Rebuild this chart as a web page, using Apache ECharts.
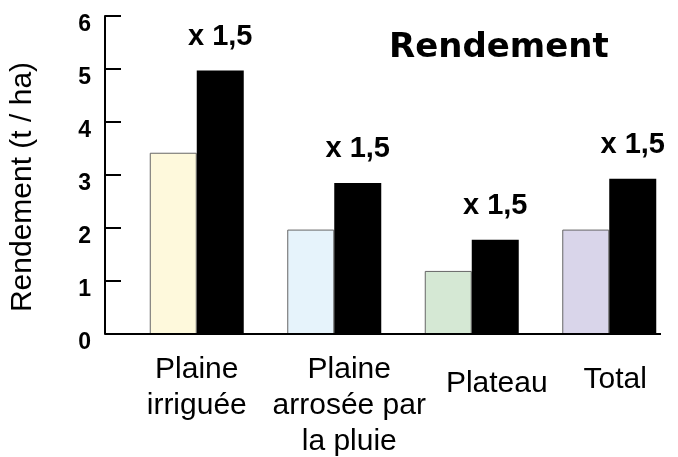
<!DOCTYPE html>
<html>
<head>
<meta charset="utf-8">
<script src="https://cdn.jsdelivr.net/npm/echarts@6/dist/echarts.min.js"></script>
<style>
  html, body { margin: 0; padding: 0; background: #fff; }
  #chart { width: 678px; height: 457px; }
</style>
</head>
<body>
<div id="chart"></div>
<script>
// zones et rendements (t / ha)
var categories = ['Plaine\nirriguée', 'Plaine\narrosée par\nla pluie', 'Plateau', 'Total'];
var avant = [3.42, 1.97, 1.19, 1.97];
var apres = [4.97, 2.85, 1.78, 2.93];
var ratioLabels = ['x 1,5', 'x 1,5', 'x 1,5', 'x 1,5'];
var yTicks = [0, 1, 2, 3, 4, 5, 6];

var paleColors = ['#fef9dc', '#e6f3fb', '#d5e8d4', '#d9d5ea'];
// petits decalages des etiquettes de categorie [haut, droite, bas, gauche]
var labelPadding = [[0, 0, 0, 0], [0, 0, 0, 30], [14, 0, 0, 50], [10, 0, 0, 12]];
var font = 'Liberation Sans, Arial, sans-serif';

var myChart = echarts.init(document.getElementById('chart'));

var option = {
    animation: false,
    backgroundColor: '#fff',
    title: {
        text: 'Rendement',
        left: 384,
        top: 26,
        textStyle: { fontFamily: 'DejaVu Sans', fontSize: 34, fontWeight: 'bold', color: '#000' }
    },
    grid: { left: 128, right: 0, top: 16, bottom: 123, outerBoundsMode: 'none' },
    graphic: [{
        type: 'line',
        shape: { x1: 105, y1: 334, x2: 661, y2: 334 },
        style: { stroke: '#000', lineWidth: 2 },
        z: 10
    }],
    xAxis: {
        type: 'category',
        data: categories.map(function (c, i) {
            return { value: c, textStyle: { padding: labelPadding[i] } };
        }),
        axisLine: { show: false },
        axisTick: { show: false },
        axisLabel: {
            interval: 0,
            margin: 18,
            verticalAlign: 'top',
            lineHeight: 36,
            fontFamily: font,
            fontSize: 30,
            color: '#000'
        }
    },
    yAxis: {
        type: 'value',
        min: yTicks[0],
        max: yTicks[yTicks.length - 1],
        interval: 1,
        offset: 23,
        name: 'Rendement (t / ha)',
        nameLocation: 'middle',
        nameGap: 67,
        nameTextStyle: { fontFamily: font, fontSize: 30, color: '#000', padding: [0, 24, 0, 0] },
        axisLine: { show: true, lineStyle: { color: '#000', width: 2 } },
        axisTick: { show: true, inside: true, length: 16, lineStyle: { color: '#000', width: 2 } },
        axisLabel: {
            margin: 14,
            verticalAlign: 'top',
            lineHeight: 17,
            fontFamily: font,
            fontSize: 23,
            fontWeight: 'bold',
            color: '#000'
        },
        splitLine: { show: false }
    },
    series: [
        {
            name: 'avant',
            type: 'bar',
            barWidth: 47,
            barGap: '0%',
            data: avant.map(function (v, i) {
                return { value: v, itemStyle: { color: paleColors[i] } };
            }),
            itemStyle: { borderColor: '#666', borderWidth: 1 }
        },
        {
            name: 'apres',
            type: 'bar',
            barWidth: 47,
            data: apres,
            itemStyle: { color: '#000' },
            label: {
                show: true,
                position: 'top',
                distance: 19,
                formatter: function (p) { return ratioLabels[p.dataIndex]; },
                fontFamily: font,
                fontSize: 29,
                fontWeight: 'bold',
                color: '#000'
            }
        }
    ]
};

myChart.setOption(option);
</script>
</body>
</html>
